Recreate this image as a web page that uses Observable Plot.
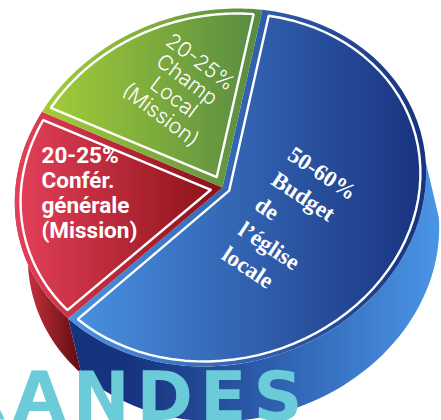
<!DOCTYPE html>
<html><head><meta charset="utf-8">
<style>html,body{margin:0;padding:0;background:#fff;overflow:hidden}svg{display:block}.banner{letter-spacing:7px}</style>
<script src="https://cdn.jsdelivr.net/npm/d3@7"></script>
<script src="https://cdn.jsdelivr.net/npm/@observablehq/plot@0.6"></script>
</head><body><div id="c"></div>
<script>
const categories = ["Budget de l'église locale", "Conférence générale", "Champ local"];
const shares = [60, 20, 20];
const labels = ["50-60%\nBudget\nde\nl’église\nlocale", "20-25%\nConfér.\ngénérale\n(Mission)", "20-25%\nChamp\nLocal\n(Mission)"];
const banner = "RANDES";

// geometry of the drawing (kept apart from the data)
const E = {cx: 220, cy: 187, a: 205, b: 179, kx: 17, ky: 0, hx: 222, hy: 187, dx: 13, dy: 55, start: 7};
const rad = d => d * Math.PI / 180;
const pt = (t, s = 1, ox = 0, oy = 0) => ({
  x: E.cx + ox + s * (E.a * Math.sin(rad(t)) + E.kx * Math.cos(rad(t))),
  y: E.cy + oy + s * (-E.b * Math.cos(rad(t)) + E.ky * Math.sin(rad(t)))
});
const arc = (t0, t1, s, ox, oy) => d3.range(0, 61).map(i => pt(t0 + (t1 - t0) * i / 60, s, ox, oy));

let acc = E.start;
const spans = shares.map(v => { const t0 = acc; acc += v / d3.sum(shares) * 360; return [t0, acc]; });

const faces = [], outlines = [], sides = [];
spans.forEach(([t0, t1], i) => {
  faces.push({i, pts: [{x: E.hx, y: E.hy}, ...arc(t0, t1, 1)]});
  const mid = rad((t0 + t1) / 2), half = rad((t1 - t0) / 2), k = 7 / Math.sin(half);
  const apex = {x: E.hx + k * Math.sin(mid), y: E.hy - k * Math.cos(mid)};
  outlines.push({i, pts: [apex, ...arc(t0 + 2.2, t1 - 2.2, 0.972), apex]});
});
const sideOf = (t0, t1) => [...arc(t0, t1, 1), ...arc(t0, t1, 1, E.dx, E.dy).reverse()];
sides.push({i: 0, pts: sideOf(82, spans[0][1])});
sides.push({i: 1, pts: sideOf(spans[1][0], 285)});

const grads = [
  ["gBlue", 70, 420, "#4a92e2", "#19337f"],
  ["gRed", 15, 215, "#e4405a", "#8c1218"],
  ["gGreen", 50, 262, "#a2cb38", "#578a42"],
  ["sBlue", 130, 437, "#16337f", "#4a94e6"],
  ["sRed", 25, 80, "#c8323f", "#5e0c10"]
];
const defs = () => {
  const d = d3.create("svg:defs");
  grads.forEach(([id, x1, x2, a, b]) => {
    const g = d.append("linearGradient").attr("id", id).attr("gradientUnits", "userSpaceOnUse")
      .attr("x1", x1).attr("x2", x2).attr("y1", 0).attr("y2", 0);
    g.append("stop").attr("offset", 0).attr("stop-color", a);
    g.append("stop").attr("offset", 1).attr("stop-color", b);
  });
  return d.node();
};

const faceFill = ["url(#gBlue)", "url(#gRed)", "url(#gGreen)"];
const sideFill = ["url(#sBlue)", "url(#sRed)"];
const lbl = (i, x, y, o) => Plot.text([labels[i]], {x: () => x, y: () => y, text: d => d, fill: "#fff", lineAnchor: "middle", ...o});

const chart = Plot.plot({
  width: 441, height: 420, margin: 0,
  x: {domain: [0, 441], range: [0, 441], axis: null},
  y: {domain: [0, 420], range: [0, 420], axis: null},
  marks: [
    defs,
    sides.map(d => Plot.line(d.pts, {x: "x", y: "y", fill: sideFill[d.i], stroke: null})),
    faces.map(d => Plot.line(d.pts, {x: "x", y: "y", fill: faceFill[d.i], stroke: null})),
    outlines.map(d => Plot.line(d.pts, {x: "x", y: "y", stroke: "#fff", strokeWidth: 2.4, strokeLinejoin: "miter"})),
    lbl(0, 258, 200, {rotate: 33.5, textAnchor: "start", fontFamily: "Liberation Serif", fontWeight: 700, fontSize: 23, lineHeight: 1.3}),
    lbl(1, 41, 192, {textAnchor: "start", fontFamily: "Roboto", fontWeight: 700, fontSize: 22.5, lineHeight: 1.1}),
    lbl(2, 180, 88, {rotate: 37, textAnchor: "middle", fontFamily: "Inter", fontWeight: 300, fontSize: 21, lineHeight: 1.05}),
    Plot.text([banner], {x: () => 309, y: () => 419, text: d => d, textAnchor: "end", lineAnchor: "bottom", fill: "#6ccbd8", fontFamily: "DejaVu Sans", fontWeight: 700, fontSize: 68, className: "banner"})
  ]
});
document.getElementById("c").append(chart);
</script></body></html>
